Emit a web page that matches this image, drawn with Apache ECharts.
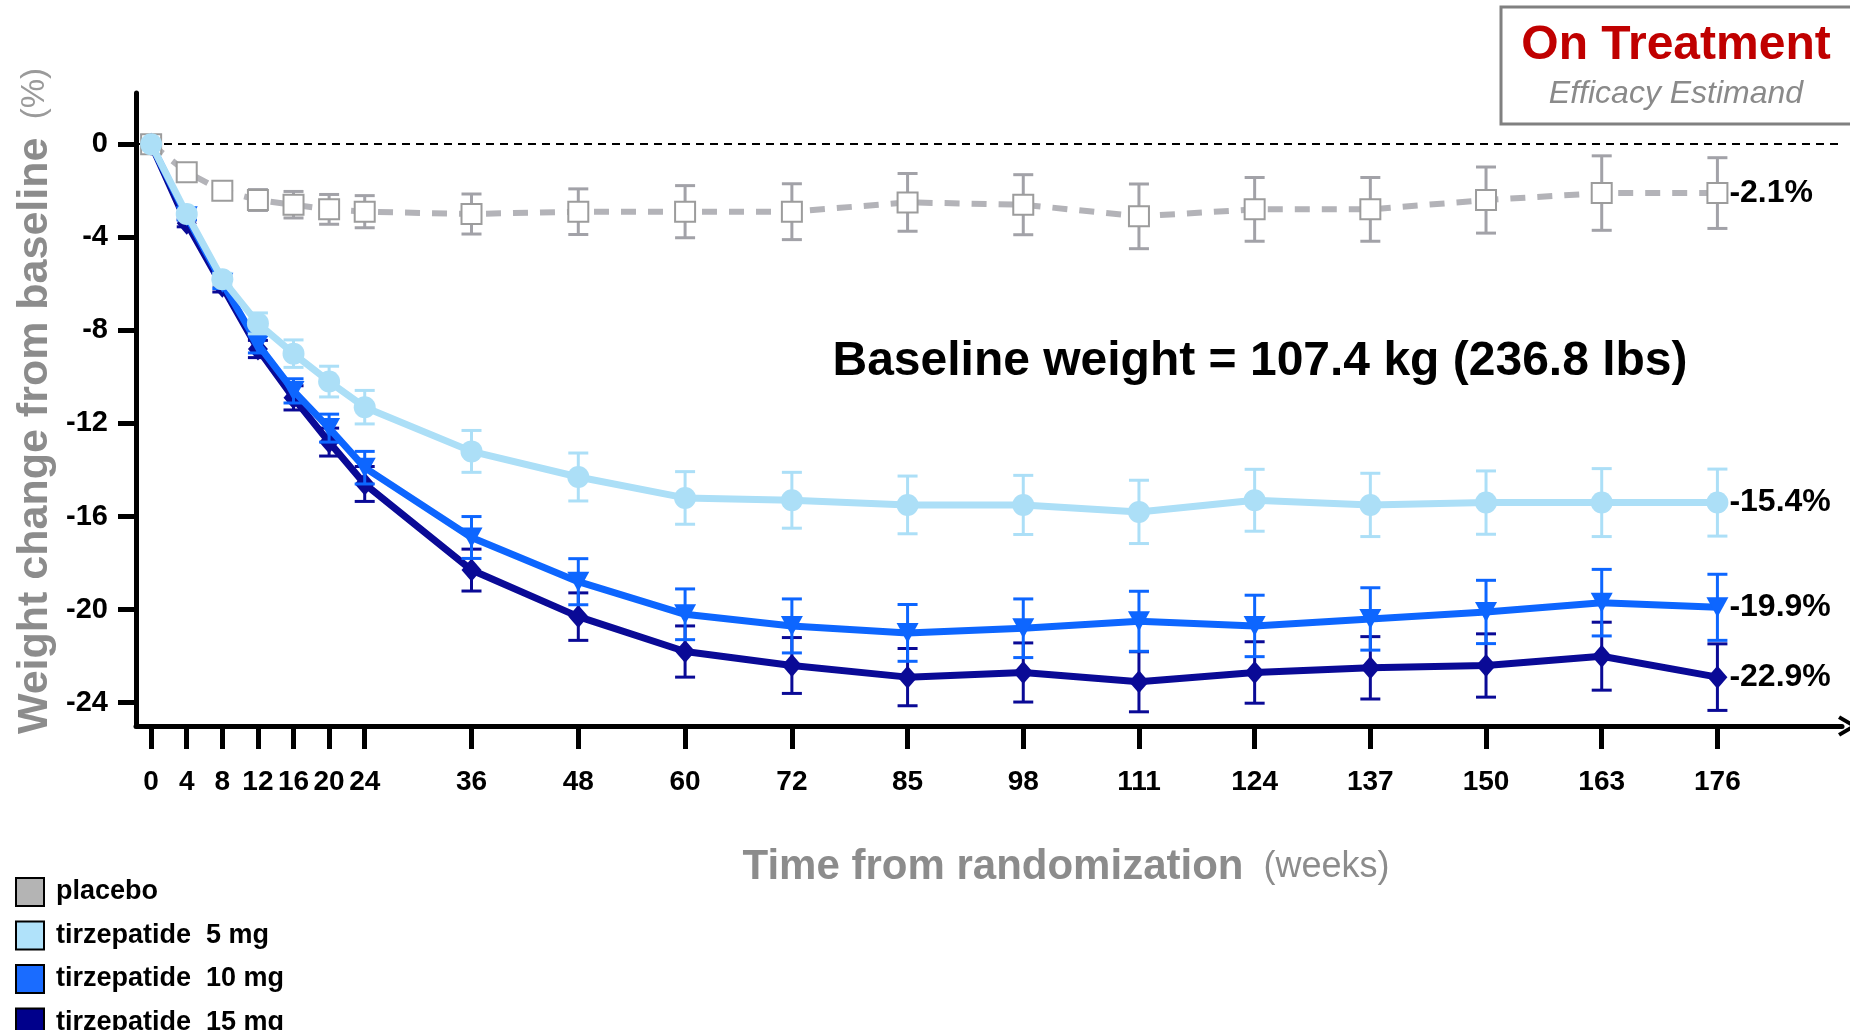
<!DOCTYPE html>
<html>
<head>
<meta charset="utf-8">
<script src="https://cdn.jsdelivr.net/npm/echarts@6/dist/echarts.min.js"></script>
<style>
  html, body { margin: 0; padding: 0; background: #fff; }
  #chart { width: 1850px; height: 1030px; }
</style>
</head>
<body>
<div id="chart"></div>
<script>
// weeks since randomization
const weeks = [0, 4, 8, 12, 16, 20, 24, 36, 48, 60, 72, 85, 98, 111, 124, 137, 150, 163, 176]

// mean % change from baseline
const placebo = [0, -1.2, -2.0, -2.4, -2.6, -2.8, -2.9, -3.0, -2.9, -2.9, -2.9, -2.5, -2.6, -3.1, -2.8, -2.8, -2.4, -2.1, -2.1]
const tirz5 = [0, -3.0, -5.8, -7.7, -9.0, -10.2, -11.3, -13.2, -14.3, -15.2, -15.3, -15.5, -15.5, -15.8, -15.3, -15.5, -15.4, -15.4, -15.4]
const tirz10 = [0, -3.1, -5.95, -8.6, -10.6, -12.2, -13.9, -16.9, -18.8, -20.2, -20.7, -21.0, -20.8, -20.5, -20.7, -20.4, -20.1, -19.7, -19.9]
const tirz15 = [0, -3.4, -6.1, -8.8, -10.9, -12.8, -14.6, -18.3, -20.3, -21.8, -22.4, -22.9, -22.7, -23.1, -22.7, -22.5, -22.4, -22.0, -22.9]

// half-length of the error bars
const placeboErr = [0, 0.15, 0.2, 0.45, 0.57, 0.64, 0.69, 0.86, 0.98, 1.12, 1.2, 1.24, 1.29, 1.39, 1.37, 1.37, 1.42, 1.6, 1.52]
const tirz5Err = [0, 0.15, 0.25, 0.45, 0.59, 0.66, 0.72, 0.9, 1.03, 1.13, 1.2, 1.24, 1.27, 1.36, 1.33, 1.36, 1.36, 1.46, 1.44]
const tirz10Err = [0, 0.15, 0.25, 0.37, 0.52, 0.6, 0.7, 0.9, 0.99, 1.09, 1.16, 1.22, 1.26, 1.29, 1.32, 1.34, 1.36, 1.43, 1.42]
const tirz15Err = [0, 0.15, 0.25, 0.37, 0.52, 0.6, 0.75, 0.9, 1.02, 1.1, 1.2, 1.23, 1.27, 1.29, 1.32, 1.34, 1.36, 1.46, 1.43]

const yTicks = [0, -4, -8, -12, -16, -20, -24]
const groupNames = ['placebo', 'tirzepatide  5 mg', 'tirzepatide  10 mg', 'tirzepatide  15 mg']
const endLabels = ['-2.1%', '-15.4%', '-19.9%', '-22.9%']

const FONT = "'Liberation Sans', Arial, sans-serif"
const colors = ['#b3b3b8', '#acdff7', '#0d66ff', '#0a0a96']
const legendColors = ['#b4b4b4', '#b0e2fa', '#1a6cff', '#00008b']

const chart = echarts.init(document.getElementById('chart'))

const pts = vals => weeks.map((w, i) => [w, vals[i]])
const bars = (vals, err) => weeks.map((w, i) => [w, vals[i] - err[i], vals[i] + err[i]])

// vertical error bar with caps
function errorBar(params, api) {
    const x = api.value(0)
    const lo = api.coord([x, api.value(1)])
    const hi = api.coord([x, api.value(2)])
    if (Math.abs(lo[1] - hi[1]) < 1) return
    const w = 10
    const style = { stroke: api.visual('color'), lineWidth: 3, fill: null }
    return {
        type: 'group',
        children: [
            { type: 'line', shape: { x1: lo[0], y1: lo[1], x2: hi[0], y2: hi[1] }, style },
            { type: 'line', shape: { x1: lo[0] - w, y1: lo[1], x2: lo[0] + w, y2: lo[1] }, style },
            { type: 'line', shape: { x1: hi[0] - w, y1: hi[1], x2: hi[0] + w, y2: hi[1] }, style }
        ]
    }
}

function errSeries(name, vals, err, color, z) {
    return {
        name,
        type: 'custom',
        renderItem: errorBar,
        itemStyle: { color },
        data: bars(vals, err),
        z,
        silent: true
    }
}

const endLabel = text => ({
    show: true,
    formatter: text,
    distance: 12,
    fontFamily: FONT,
    fontWeight: 'bold',
    fontSize: 32,
    color: '#000'
})

const option = {
    animation: false,
    grid: { left: 136, right: 8, top: 93, bottom: 304 },
    legend: {
        orient: 'vertical',
        left: 15,
        top: 877,
        height: 300,
        padding: 0,
        itemWidth: 28,
        itemHeight: 28,
        itemGap: 13.5,
        icon: 'rect',
        textStyle: { fontFamily: FONT, fontSize: 27, fontWeight: 'bold', color: '#000', padding: [0, 0, 0, 7] },
        data: groupNames.map((n, i) => ({
            name: n,
            itemStyle: { color: legendColors[i], borderColor: '#000', borderWidth: 2 }
        }))
    },
    xAxis: {
        type: 'value',
        min: -1.7,
        max: 190,
        splitLine: { show: false },
        axisLine: {
            show: true,
            onZero: false,
            symbol: ['none', 'path://M0,17 L10,0 L20,17 L17,19 L10,7 L3,19 Z'],
            symbolSize: [40, 20],
            symbolOffset: [0, 6],
            lineStyle: { color: '#000', width: 5 }
        },
        axisTick: { show: true, length: 23, lineStyle: { width: 5, color: '#000' }, customValues: weeks },
        axisLabel: {
            customValues: weeks,
            margin: 42,
            fontFamily: FONT,
            fontWeight: 'bold',
            fontSize: 28,
            color: '#000'
        }
    },
    yAxis: {
        type: 'value',
        min: -25,
        max: 2.2,
        splitLine: { show: false },
        axisLine: { show: true, onZero: false, lineStyle: { color: '#000', width: 5 } },
        axisTick: { show: true, length: 18, lineStyle: { width: 5, color: '#000' }, customValues: yTicks },
        axisLabel: {
            customValues: yTicks,
            margin: 28,
            fontFamily: FONT,
            fontWeight: 'bold',
            fontSize: 29,
            color: '#000'
        }
    },
    series: [
        errSeries(groupNames[3], tirz15, tirz15Err, colors[3], 2),
        {
            name: groupNames[3],
            type: 'line',
            data: pts(tirz15),
            z: 3,
            symbol: 'diamond',
            symbolSize: [20, 23],
            lineStyle: { color: colors[3], width: 7 },
            itemStyle: { color: colors[3] },
            endLabel: endLabel(endLabels[3])
        },
        errSeries(groupNames[2], tirz10, tirz10Err, colors[2], 4),
        {
            name: groupNames[2],
            type: 'line',
            data: pts(tirz10),
            z: 5,
            symbol: 'triangle',
            symbolRotate: 180,
            symbolSize: [22, 20],
            lineStyle: { color: colors[2], width: 7 },
            itemStyle: { color: colors[2] },
            endLabel: endLabel(endLabels[2])
        },
        errSeries(groupNames[0], placebo, placeboErr, '#a2a2a8', 6),
        {
            name: groupNames[0],
            type: 'line',
            data: pts(placebo),
            z: 7,
            symbol: 'rect',
            symbolSize: 20,
            lineStyle: { color: colors[0], width: 6, type: [15, 12] },
            itemStyle: { color: '#fff', borderColor: '#9c9c9c', borderWidth: 2 },
            endLabel: endLabel(endLabels[0]),
            markLine: {
                silent: true,
                symbol: 'none',
                label: { show: false },
                lineStyle: { color: '#000', type: [8, 6], width: 2 },
                data: [{ yAxis: 0 }]
            }
        },
        errSeries(groupNames[1], tirz5, tirz5Err, colors[1], 8),
        {
            name: groupNames[1],
            type: 'line',
            data: pts(tirz5),
            z: 9,
            symbol: 'circle',
            symbolSize: 22,
            lineStyle: { color: colors[1], width: 7 },
            itemStyle: { color: colors[1] },
            endLabel: endLabel(endLabels[1])
        }
    ],
    graphic: [
        {
            type: 'text',
            x: 35,
            y: 401,
            rotation: Math.PI / 2,
            style: {
                text: '{a|Weight change from baseline}{b|  (%)}',
                align: 'center',
                verticalAlign: 'middle',
                rich: {
                    a: { fontFamily: FONT, fontWeight: 'bold', fontSize: 43, fill: '#8c8c8c' },
                    b: { fontFamily: FONT, fontSize: 33, fill: '#9a9a9a' }
                }
            }
        },
        {
            type: 'text',
            x: 1066,
            y: 867,
            style: {
                text: '{a|Time from randomization}{b|  (weeks)}',
                align: 'center',
                verticalAlign: 'middle',
                rich: {
                    a: { fontFamily: FONT, fontWeight: 'bold', fontSize: 42, fill: '#8c8c8c' },
                    b: { fontFamily: FONT, fontSize: 36, fill: '#8c8c8c' }
                }
            }
        },
        {
            type: 'text',
            x: 1260,
            y: 362,
            style: {
                text: 'Baseline weight = 107.4 kg (236.8 lbs)',
                align: 'center',
                verticalAlign: 'middle',
                fontFamily: FONT,
                fontWeight: 'bold',
                fontSize: 48,
                fill: '#000'
            }
        },
        {
            type: 'rect',
            shape: { x: 1501, y: 7, width: 380, height: 117 },
            style: { fill: '#fff', stroke: '#808080', lineWidth: 3 }
        },
        {
            type: 'text',
            x: 1676,
            y: 46,
            style: {
                text: 'On Treatment',
                align: 'center',
                verticalAlign: 'middle',
                fontFamily: FONT,
                fontWeight: 'bold',
                fontSize: 48,
                fill: '#c00000'
            }
        },
        {
            type: 'text',
            x: 1676,
            y: 94,
            style: {
                text: 'Efficacy Estimand',
                align: 'center',
                verticalAlign: 'middle',
                fontFamily: FONT,
                fontStyle: 'italic',
                fontSize: 32,
                fill: '#8a8a8a'
            }
        }
    ]
}

chart.setOption(option)

window.addEventListener('resize', () => {
    chart.resize()
})
</script>
</body>
</html>
